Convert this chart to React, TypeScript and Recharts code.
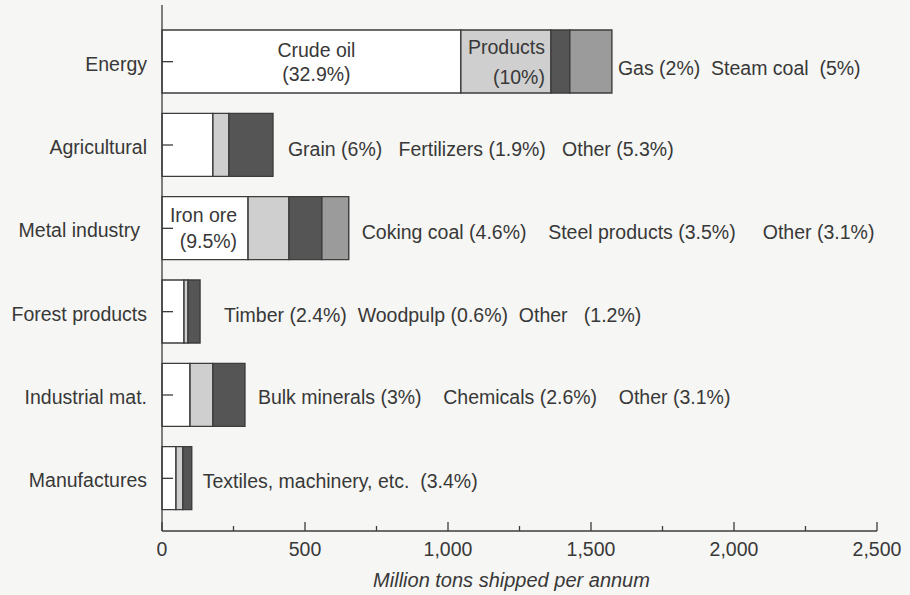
import { BarChart, Bar, XAxis, YAxis, LabelList } from 'recharts';

// million tons shipped per annum
const categories = ['Energy', 'Agricultural', 'Metal industry', 'Forest products', 'Industrial mat.', 'Manufactures'];
const firstLoad = [1045, 178, 301, 77, 98, 49];
const secondLoad = [315, 56, 143, 14, 80, 24];
const thirdLoad = [66, 154, 115, 42, 112, 31];
const fourthLoad = [147, 0, 94, 0, 0, 0];

const notes = [
  'Gas (2%)  Steam coal  (5%)',
  'Grain (6%)   Fertilizers (1.9%)   Other (5.3%)',
  'Coking coal (4.6%)    Steel products (3.5%)     Other (3.1%)',
  'Timber (2.4%)  Woodpulp (0.6%)  Other   (1.2%)',
  'Bulk minerals (3%)    Chemicals (2.6%)    Other (3.1%)',
  'Textiles, machinery, etc.  (3.4%)',
];
const firstInside = [['Crude oil', '(32.9%)'], [], ['Iron ore', '(9.5%)'], [], [], []];
const secondInside = [['Products', '(10%)'], [], [], [], [], []];

const xTicks = [0, 250, 500, 750, 1000, 1250, 1500, 1750, 2000, 2250, 2500];

const data = categories.map((name, i) => ({
  name,
  a: firstLoad[i],
  b: secondLoad[i],
  c: thirdLoad[i],
  d: fourthLoad[i],
  note: notes[i],
}));

const noteGap = [6, 15, 13, 24, 13, 11];
const noteDy = [6, 4, 4, 3, 2, 3];
const labelShift = [0, 0, 7, 0, 0, 0];
const FONT = '"Liberation Sans", Arial, Helvetica, sans-serif';
const FS = 19.5;
const INK = '#383838';
const EDGE = '#3c3c3c';

const XTick = (props: any) => {
  const { x, y, payload } = props;
  const major = payload.value % 500 === 0;
  return (
    <g>
      <line x1={x} x2={x} y1={y} y2={y - (major ? 9 : 5)} stroke={EDGE} strokeWidth={1.3} />
      {major && (
        <text x={x} y={y + 18} textAnchor="middle" dominantBaseline="central" fontSize={FS} fill={INK} fontFamily={FONT}>
          {payload.value.toLocaleString('en-US')}
        </text>
      )}
    </g>
  );
};

const YTick = (props: any) => {
  const { x, y, payload, index } = props;
  return (
    <g>
      <line x1={x} x2={x + 11} y1={y} y2={y} stroke={EDGE} strokeWidth={1.3} />
      <text
        x={x - 15 - (labelShift[index] || 0)}
        y={y + 2}
        textAnchor="end"
        dominantBaseline="central"
        fontSize={FS}
        fill={INK}
        fontFamily={FONT}
      >
        {payload.value}
      </text>
    </g>
  );
};

const insideLabel = (lines: string[][], mode: 'center' | 'right', gap: number, spread: number) => (props: any) => {
  const { x, y, width, height, index } = props;
  const txt = lines[index];
  if (!txt || txt.length === 0) return null;
  const cy = y + height / 2;
  const tx = mode === 'center' ? x + width / 2 + 5 : x + width - gap;
  return (
    <g>
      {txt.map((t, k) => (
        <text
          key={k}
          x={tx}
          y={cy + (k === 0 ? -spread : spread)}
          textAnchor={mode === 'center' ? 'middle' : 'end'}
          dominantBaseline="central"
          fontSize={FS}
          fill={INK}
          fontFamily={FONT}
        >
          {t}
        </text>
      ))}
    </g>
  );
};

// the note sits after the last non-empty segment of the row;
// zero-width segments are dropped from the label list, so find the row by its note
const noteLabel = (useFourth: boolean) => (props: any) => {
  const { x, y, width, height, value } = props;
  const row = notes.indexOf(value);
  if (row < 0 || (fourthLoad[row] > 0) !== useFourth) return null;
  return (
    <text
      x={x + width + noteGap[row]}
      y={y + height / 2 + noteDy[row]}
      dominantBaseline="central"
      fontSize={FS}
      fill={INK}
      fontFamily={FONT}
      style={{ whiteSpace: 'pre' }}
    >
      {value}
    </text>
  );
};

export default function App() {
  return (
    <div style={{ width: 910, height: 595, background: '#f6f6f4' }}>
      <style>{'body{margin:0;background:#f6f6f4}'}</style>
      <BarChart
        width={910}
        height={595}
        data={data}
        layout="vertical"
        margin={{ top: 5, right: 33, bottom: 0, left: 0 }}
        barSize={63}
      >
        <XAxis
          type="number"
          domain={[0, 2500]}
          ticks={xTicks}
          interval={0}
          height={64}
          tickSize={0}
          tickMargin={0}
          tickLine={false}
          tick={XTick}
          stroke={EDGE}
          strokeWidth={1.3}
          label={{
            value: 'Million tons shipped per annum',
            position: 'insideBottom',
            offset: 8,
            dx: -8,
            style: { fontSize: 20, fontStyle: 'italic', fill: INK, fontFamily: FONT },
          }}
        />
        <YAxis
          type="category"
          dataKey="name"
          width={162}
          padding={{ top: 15, bottom: 11 }}
          tickSize={0}
          tickMargin={0}
          tickLine={false}
          tick={YTick}
          interval={0}
          stroke={EDGE}
          strokeWidth={1.3}
        />
        <Bar dataKey="a" stackId="s" fill="#ffffff" stroke={EDGE} strokeWidth={1.4} isAnimationActive={false}>
          <LabelList dataKey="a" content={(p: any) => (p.index === 0 ? insideLabel(firstInside, 'center', 0, 12)(p) : null)} />
          <LabelList dataKey="a" content={(p: any) => (p.index === 2 ? insideLabel(firstInside, 'right', 11, 13)(p) : null)} />
        </Bar>
        <Bar dataKey="b" stackId="s" fill="#cfcfcf" stroke={EDGE} strokeWidth={1.4} isAnimationActive={false}>
          <LabelList dataKey="b" content={insideLabel(secondInside, 'right', 6, 15)} />
        </Bar>
        <Bar dataKey="c" stackId="s" fill="#555555" stroke={EDGE} strokeWidth={1.4} isAnimationActive={false}>
          <LabelList dataKey="note" content={noteLabel(false)} />
        </Bar>
        <Bar dataKey="d" stackId="s" fill="#9b9b9b" stroke={EDGE} strokeWidth={1.4} isAnimationActive={false}>
          <LabelList dataKey="note" content={noteLabel(true)} />
        </Bar>
      </BarChart>
    </div>
  );
}
